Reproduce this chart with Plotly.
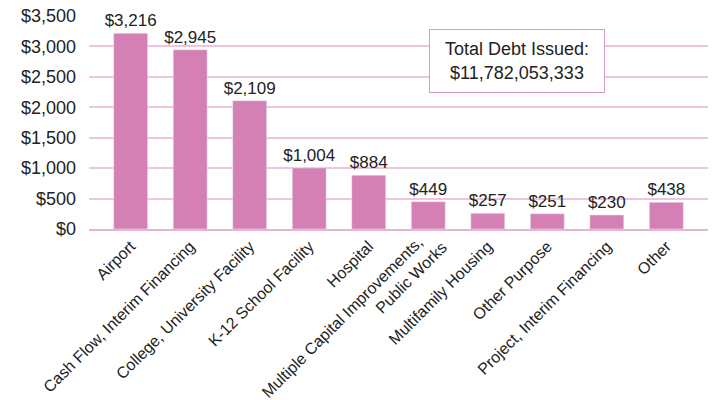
import plotly.graph_objects as go

categories = ["Airport", "Cash Flow, Interim Financing", "College, University Facility",
              "K-12 School Facility", "Hospital",
              "Multiple Capital Improvements,\u00a0\u00a0\u00a0<br>Public Works", "Multifamily Housing",
              "Other Purpose", "Project, Interim Financing", "Other"]
values = [3216, 2945, 2109, 1004, 884, 449, 257, 251, 230, 438]
labels = ["$3,216", "$2,945", "$2,109", "$1,004", "$884", "$449", "$257", "$251", "$230", "$438"]
tick_vals = [0, 500, 1000, 1500, 2000, 2500, 3000, 3500]
tick_text = ["$0", "$500", "$1,000", "$1,500", "$2,000", "$2,500", "$3,000", "$3,500"]

font_family = "Liberation Sans, Arial, Helvetica, sans-serif"

W, H = 714, 400
L, R, T, B = 89, 6, 16, 171

# the two-line category label is drawn as a rotated annotation (centred block like the original)
MULTI = 5
x_ticktext = [c if i != MULTI else "" for i, c in enumerate(categories)]

fig = go.Figure(go.Bar(
    x=list(range(len(categories))), y=values,
    marker_color="#d580b5", width=0.57,
    text=labels, textposition="outside", cliponaxis=False, constraintext="none",
    textfont=dict(size=17, color="#222222", family=font_family),
))

fig.update_layout(
    width=W, height=H,
    margin=dict(l=L, r=R, t=T, b=B, autoexpand=False),
    paper_bgcolor="white", plot_bgcolor="white",
    showlegend=False,
    font=dict(family=font_family, color="#222222"),
    xaxis=dict(
        tickmode="array", tickvals=list(range(len(categories))), ticktext=x_ticktext,
        range=[-0.7, 9.7], tickangle=-45, tickfont=dict(size=16), automargin=False,
        showgrid=False, showline=True, linecolor="#e8b4d4", linewidth=1.5,
        ticks="", zeroline=False,
    ),
    yaxis=dict(
        range=[0, 3500], tickmode="array", tickvals=tick_vals, ticktext=tick_text,
        tickfont=dict(size=18), showgrid=True, gridcolor="#f0c4de", gridwidth=1.5,
        zeroline=False, ticks="", ticklen=0, automargin=False, ticklabelstandoff=12,
        ticklabeloverflow="allow",
    ),
    annotations=[
        dict(
            x=(517 - L) / (W - L - R), y=1 - (61 - T) / (H - T - B),
            xref="paper", yref="paper", xanchor="center", yanchor="middle",
            text="Total Debt Issued:<br>$11,782,053,333", showarrow=False,
            font=dict(size=18, color="#222222"),
            width=160, height=48,
            bgcolor="white", bordercolor="#d99ac4", borderwidth=1, borderpad=7,
        ),
        dict(
            x=MULTI, y=0, xref="x", yref="y", xanchor="center", yanchor="middle",
            text=categories[MULTI], showarrow=False, textangle=-45, align="right",
            font=dict(size=16, color="#222222"),
            xshift=-74, yshift=-91,
        ),
    ],
)

fig.write_html("out.html", config={"displayModeBar": False},
               post_script="document.body.style.margin='0';document.body.style.overflow='hidden';")
